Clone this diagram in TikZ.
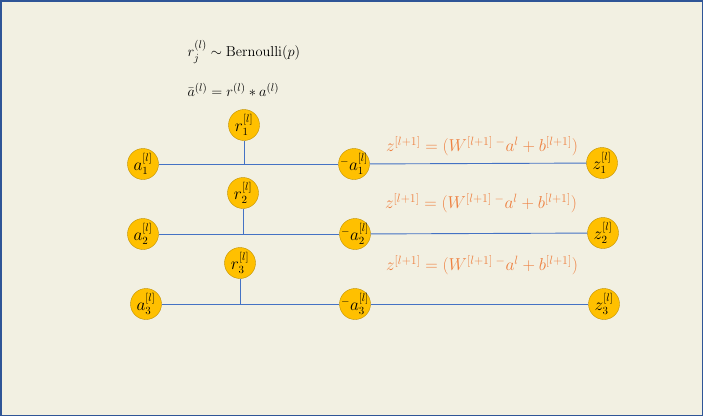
\documentclass[tikz,border=0pt]{standalone}
\usepackage{amsmath}
\definecolor{paper}{HTML}{F2F0E2}
\definecolor{frame}{HTML}{2F5597}
\definecolor{gold}{HTML}{FFC000}
\definecolor{darkgold}{HTML}{C09000}
\definecolor{wire}{HTML}{4472C4}
\definecolor{eqorange}{HTML}{EE8040}
\begin{document}
\begin{tikzpicture}[x=1pt,y=-1pt,
    unit node/.style={circle,fill=gold,draw=darkgold,
      minimum size=31pt,inner sep=-3pt,font=\fontsize{16}{18}\selectfont},
    eq node/.style={text=eqorange,font=\fontsize{17}{19}\selectfont}]

    \fill[paper] (0,0) rectangle (703,416);
    \draw[frame,line width=1.5pt] (0.75,0.75) rectangle (702.25,415.25);

    \node[anchor=west,font=\fontsize{15}{17}\selectfont] (BER) at (184,52)
      {$r_j^{(l)}\sim\mathrm{Bernoulli}(p)$};
    \node[anchor=west,font=\fontsize{15}{17}\selectfont] (DROP) at (184,90)
      {$\bar{a}^{(l)}=r^{(l)}*a^{(l)}$};

    \node[unit node] (A1) at (143,164) {$a_1^{[l]}$};
    \node[unit node] (A2) at (143,234) {$a_2^{[l]}$};
    \node[unit node] (A3) at (146,304) {$a_3^{[l]}$};
    \node[unit node] (R1) at (244,125) {$r_1^{[l]}$};
    \node[unit node] (R2) at (243,193) {$r_2^{[l]}$};
    \node[unit node] (R3) at (240,263) {$r_3^{[l]}$};
    \node[unit node] (B1) at (354,164) {${}^{-}a_1^{[l]}$};
    \node[unit node] (B2) at (355,234) {${}^{-}a_2^{[l]}$};
    \node[unit node] (B3) at (355,304) {${}^{-}a_3^{[l]}$};
    \node[unit node] (Z1) at (602,163) {$z_1^{[l]}$};
    \node[unit node] (Z2) at (603,233) {$z_2^{[l]}$};
    \node[unit node] (Z3) at (604,304) {$z_3^{[l]}$};

    \node[eq node] (E1) at (482,146) {$z^{[l+1]}=(W^{[l+1]}\,{}^{-}a^{l}+b^{[l+1]})$};
    \node[eq node] (E2) at (481,203) {$z^{[l+1]}=(W^{[l+1]}\,{}^{-}a^{l}+b^{[l+1]})$};
    \node[eq node] (E3) at (482,265) {$z^{[l+1]}=(W^{[l+1]}\,{}^{-}a^{l}+b^{[l+1]})$};

    \coordinate (J1) at (R1 |- A1);
    \coordinate (J2) at (R2 |- A2);
    \coordinate (J3) at (R3 |- A3);

    \path[draw=wire,line width=0.9pt]
    (A1) edge (B1) (R1) edge (J1) (B1) edge (Z1)
    (A2) edge (B2) (R2) edge (J2) (B2) edge (Z2)
    (A3) edge (B3) (R3) edge (J3) (B3) edge (Z3)
    ;
  \end{tikzpicture}
\end{document}
